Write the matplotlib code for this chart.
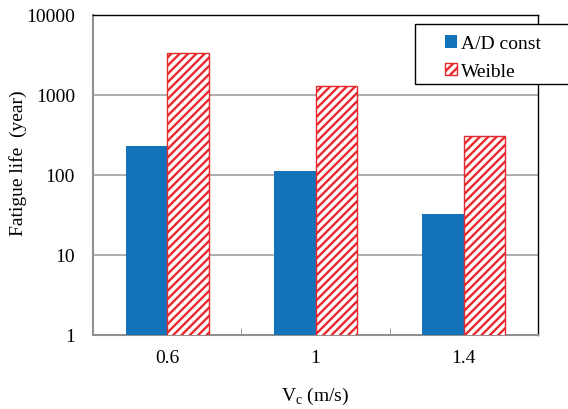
import matplotlib
matplotlib.use('Agg')
import matplotlib.pyplot as plt
from matplotlib.patches import Rectangle
import numpy as np

plt.rcParams['font.family'] = 'Liberation Serif'
plt.rcParams['mathtext.fontset'] = 'custom'
plt.rcParams['mathtext.rm'] = 'Liberation Serif'
plt.rcParams['hatch.linewidth'] = 1.7
plt.rcParams['hatch.color'] = '#e8282c'

categories = ['0.6', '1', '1.4']
ad_const = [232, 111, 32.6]
weible = [3320, 1283, 307]

W, H = 568, 410
fig = plt.figure(figsize=(W/100, H/100), dpi=100)
ax = fig.add_axes([93/W, 1 - 336/H, 445/W, 320/H])

x = np.arange(len(categories))
w = 0.28
ax.bar(x - w/2, ad_const, w, color='#1272ba', label='A/D const', zorder=3)
ax.bar(x + w/2, weible, w, color='white', edgecolor='#e8282c', hatch='////',
       linewidth=1.0, label='Weible', zorder=3)

ax.set_yscale('log')
ax.set_ylim(1, 10000)
ax.set_xlim(-0.5, 2.5)
ax.set_yticks([1, 10, 100, 1000, 10000])
ax.set_yticklabels(['1', '10', '100', '1000', '10000'])
ax.yaxis.set_minor_locator(matplotlib.ticker.NullLocator())
ax.grid(axis='y', color='#a0a0a0', linewidth=1.2, zorder=0)
ax.tick_params(axis='y', length=0, labelsize=14, pad=13)

ax.set_xticks(x)
ax.set_xticklabels(categories)
ax.tick_params(axis='x', length=0, labelsize=14, pad=10)
ax.set_xticks([0.5, 1.5], minor=True)
ax.tick_params(axis='x', which='minor', direction='in', length=5, color='#909090')

for s in ['left', 'bottom']:
    ax.spines[s].set_color('#909090')
    ax.spines[s].set_linewidth(1.5)
for s in ['top', 'right']:
    ax.spines[s].set_color('black')
    ax.spines[s].set_linewidth(1.0)

ax.set_ylabel('Fatigue life\u2002(year)', fontsize=14)
ax.yaxis.set_label_coords(-66/445, (336 - 163)/320)
ax.set_xlabel('V$_\\mathrm{c}$ (m/s)', fontsize=14, labelpad=14)

# legend box runs past the right edge of the figure, like the reference
frame = Rectangle(((415 - 93)/445, (336 - 85)/320), 200/445, 60/320,
                  transform=ax.transAxes, facecolor='white', edgecolor='black',
                  linewidth=1.0, clip_on=False, zorder=4)
ax.add_patch(frame)
leg = ax.legend(loc='upper left', bbox_to_anchor=((445 - 93)/445, (336 - 36)/320),
                fontsize=14, frameon=False, borderpad=0, borderaxespad=0,
                handlelength=0.62, handleheight=0.62, handletextpad=0.2,
                labelspacing=0.55)
leg.set_zorder(5)

fig.savefig('out.png', dpi=100)
